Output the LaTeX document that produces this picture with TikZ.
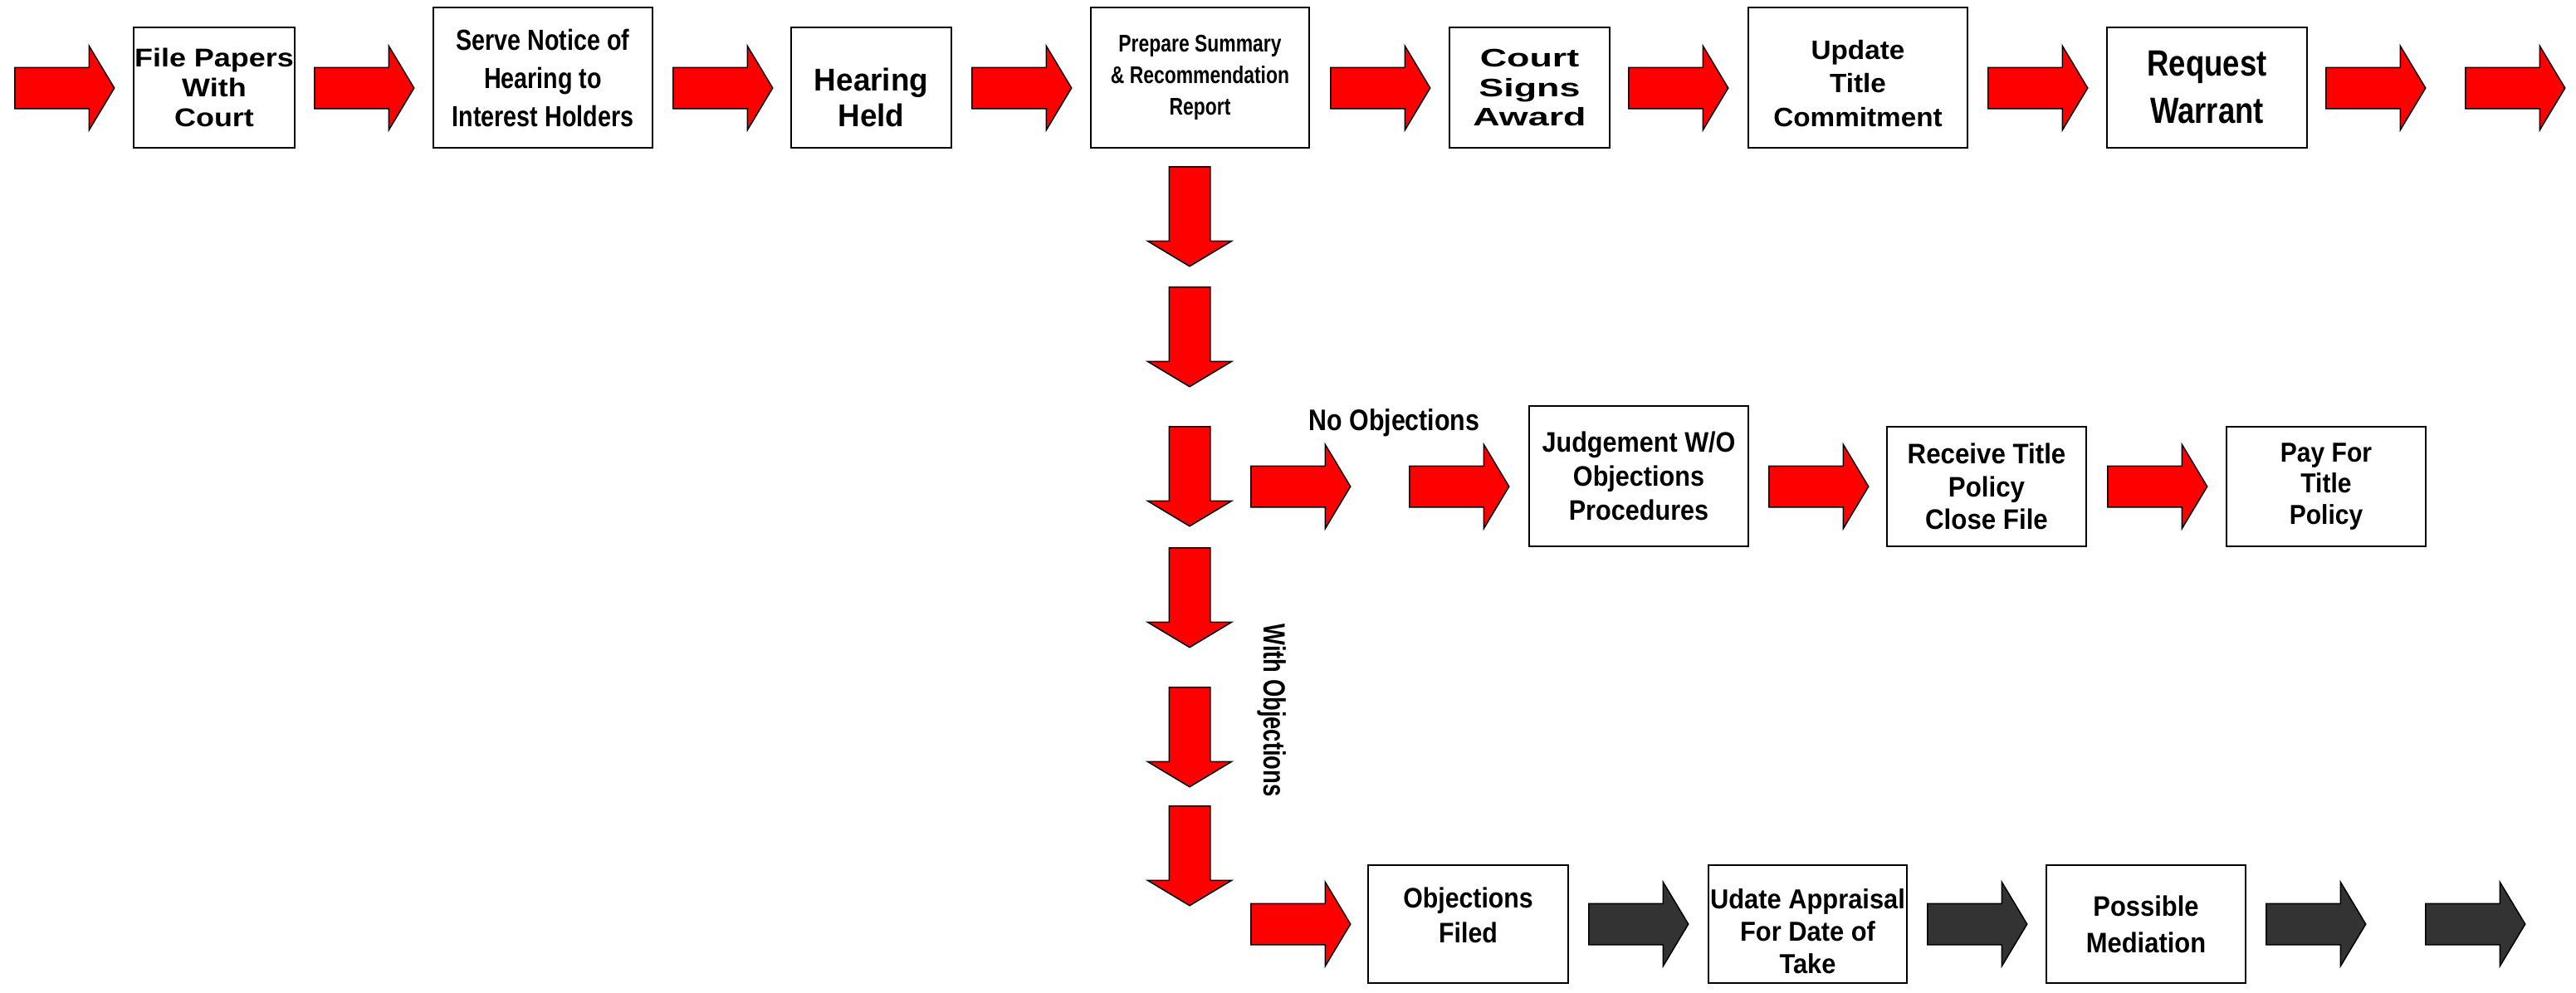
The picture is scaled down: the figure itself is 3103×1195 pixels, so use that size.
\documentclass[tikz,border=0pt]{standalone}
\usepackage{fontspec}
\setmainfont{Liberation Sans}
\usetikzlibrary{shapes.arrows}
\definecolor{arrowgrey}{HTML}{333333}
\newcommand\setfnt[3]{\bfseries\fontsize{#1}{#2}\selectfont\addfontfeature{FakeStretch=#3}}

\begin{document}
\begin{tikzpicture}[x=1pt, y=-1pt,
  procbox/.style={draw, line width=2.5pt, align=center, inner sep=0pt},
  blockarrow/.style={single arrow, draw, line width=1.5pt, inner xsep=0pt, inner ysep=24pt, anchor=tail,
    minimum width=100pt, minimum height=120pt, single arrow head extend=26pt, single arrow tip angle=118},
  redarrow/.style={blockarrow, fill=red},
  greyarrow/.style={blockarrow, fill=arrowgrey}]
\useasboundingbox (0,0) rectangle (3103,1195);
% top row
\node[redarrow] (ar0) at (17,106){};
\node[procbox, minimum width=194pt, minimum height=145pt, font=\setfnt{31}{36}{1.16}] (bx1) at (258,105.5){File Papers\\With\\Court};
\node[redarrow] (ar1) at (378,106){};
\node[procbox, minimum width=264pt, minimum height=169pt, font=\setfnt{35}{46}{0.82}] (bx2) at (654,93.5){Serve Notice of\\Hearing to\\Interest Holders};
\node[redarrow] (ar2) at (810,106){};
\node[procbox, minimum width=193pt, minimum height=145pt, font=\setfnt{38}{43}{0.97}] (bx3) at (1049.5,105.5){\raisebox{-17pt}[\height][\depth]{\begin{tabular}{@{}c@{}}Hearing\\Held\end{tabular}}};
\node[redarrow] (ar3) at (1170,106){};
\node[procbox, minimum width=263pt, minimum height=169pt, font=\setfnt{29}{38}{0.79}] (bx4) at (1445.5,93.5){Prepare Summary\\\& Recommendation\\Report};
\node[redarrow] (ar4) at (1602,106){};
\node[procbox, minimum width=193pt, minimum height=145pt, font=\setfnt{30.5}{35.5}{1.47}] (bx5) at (1842.5,105.5){Court\\Signs\\Award};
\node[redarrow] (ar5) at (1961,106){};
\node[procbox, minimum width=264pt, minimum height=169pt, font=\setfnt{32}{40.6}{1.04}] (bx6) at (2238,93.5){\raisebox{-10pt}[\height][\depth]{\begin{tabular}{@{}c@{}}Update\\Title\\Commitment\end{tabular}}};
\node[redarrow] (ar6) at (2394,106){};
\node[procbox, minimum width=241pt, minimum height=145pt, font=\setfnt{44}{57}{0.83}] (bx7) at (2658.5,105.5){Request\\Warrant};
\node[redarrow] (ar7) at (2801,106){};
\node[redarrow] (ar8) at (2969,106){};
% down the middle
\node[redarrow, rotate=-90] (dn1) at (1433,200){};
\node[redarrow, rotate=-90] (dn2) at (1433,345){};
\node[redarrow, rotate=-90] (dn3) at (1433,513){};
\node[redarrow, rotate=-90] (dn4) at (1433,659){};
\node[redarrow, rotate=-90] (dn5) at (1433,827){};
\node[redarrow, rotate=-90] (dn6) at (1433,970){};
% no objections
\node[font=\setfnt{35.7}{42}{0.85}] (noobj) at (1679.5,509){No Objections};
\node[redarrow] (na1) at (1506,586){};
\node[redarrow] (na2) at (1697,586){};
\node[procbox, minimum width=264pt, minimum height=169pt, font=\setfnt{34}{41}{0.9}] (jdg) at (1974,573.5){Judgement W/O\\Objections\\Procedures};
\node[redarrow] (na3) at (2130,586){};
\node[procbox, minimum width=240pt, minimum height=144pt, font=\setfnt{34}{39.6}{0.92}] (rcv) at (2393,586){Receive Title\\Policy\\Close File};
\node[redarrow] (na4) at (2538,586){};
\node[procbox, minimum width=240pt, minimum height=144pt, font=\setfnt{33}{37.6}{0.91}] (pay) at (2802,586){Pay For\\Title\\Policy};
% with objections
\node[font=\setfnt{37}{42}{0.74}, rotate=-90] (wobj) at (1532,855.5){With Objections};
\node[redarrow] (wa1) at (1506,1113){};
\node[procbox, minimum width=241pt, minimum height=142pt, font=\setfnt{34}{42}{0.89}] (filed) at (1768.5,1113){\raisebox{7pt}[\height][\depth]{\begin{tabular}{@{}c@{}}Objections\\Filed\end{tabular}}};
\node[greyarrow] (wa2) at (1913,1113){};
\node[procbox, minimum width=239pt, minimum height=142pt, font=\setfnt{33}{39}{0.935}] (appr) at (2177.5,1113){\raisebox{-13pt}[\height][\depth]{\begin{tabular}{@{}c@{}}Udate Appraisal\\For Date of\\Take\end{tabular}}};
\node[greyarrow] (wa3) at (2321,1113){};
\node[procbox, minimum width=240pt, minimum height=142pt, font=\setfnt{34}{44}{0.91}] (med) at (2585,1113){Possible\\Mediation};
\node[greyarrow] (wa4) at (2729,1113){};
\node[greyarrow] (wa5) at (2921,1113){};
\end{tikzpicture}
\end{document}
